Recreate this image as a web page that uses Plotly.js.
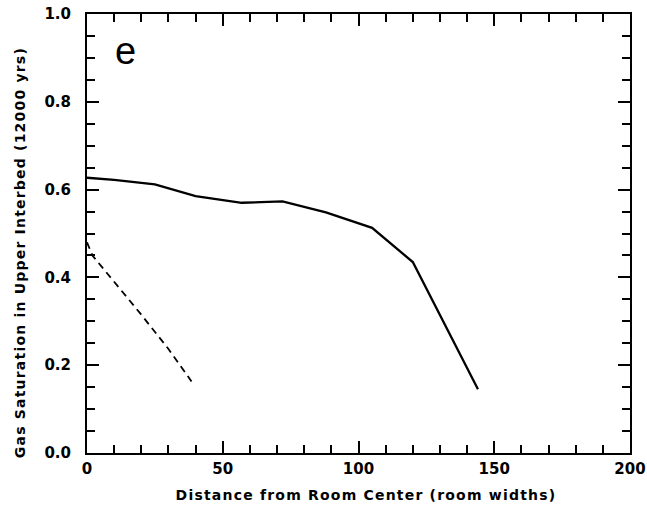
<!DOCTYPE html>
<html>
<head>
<meta charset="utf-8">
<script src="https://cdn.plot.ly/plotly-3.0.1.min.js"></script>
<style>
html,body{margin:0;padding:0;background:#fff;}
#chart{width:647px;height:507px;}
</style>
</head>
<body>
<div id="chart"></div>
<script>
// Solid curve
const solidX = [0, 10, 25, 40, 57, 72, 88, 105, 120, 144];
const solidY = [0.627, 0.622, 0.612, 0.585, 0.570, 0.573, 0.548, 0.513, 0.435, 0.145];
// Dashed curve
const dashX = [0, 2, 8, 20, 30, 38.5];
const dashY = [0.48, 0.45, 0.405, 0.315, 0.237, 0.163];

const xTitle = "Distance from Room Center (room widths)";
const yTitle = "Gas Saturation in Upper Interbed (12000 yrs)";
const panelLabel = "e";

const tickFont = {family: "DejaVu Sans", size: 15, color: "#000", weight: "bold"};
const titleFont = {family: "DejaVu Sans", size: 14, color: "#000", weight: "bold"};

const traces = [
  {x: solidX, y: solidY, mode: "lines", line: {color: "#000", width: 2.3}, showlegend: false, hoverinfo: "skip"},
  {x: dashX, y: dashY, mode: "lines", line: {color: "#000", width: 1.8, dash: "7px,5px"}, showlegend: false, hoverinfo: "skip"}
];

const layout = {
  width: 647, height: 507,
  margin: {l: 87, r: 17, t: 14, b: 54},
  paper_bgcolor: "#fff", plot_bgcolor: "#fff",
  xaxis: {
    range: [0, 200], dtick: 50, tick0: 0,
    showgrid: false, zeroline: false,
    showline: true, linecolor: "#000", linewidth: 2, mirror: "allticks",
    ticks: "inside", ticklen: 12, tickwidth: 2, tickcolor: "#000",
    minor: {dtick: 10, ticks: "inside", ticklen: 8, tickwidth: 2, tickcolor: "#000", showgrid: false},
    tickfont: tickFont, ticklabelstandoff: 1
  },
  yaxis: {
    range: [0, 1], dtick: 0.2, tick0: 0, tickformat: ".1f",
    showgrid: false, zeroline: false,
    showline: true, linecolor: "#000", linewidth: 2, mirror: "allticks",
    ticks: "inside", ticklen: 12, tickwidth: 2, tickcolor: "#000",
    minor: {dtick: 0.05, ticks: "inside", ticklen: 8, tickwidth: 2, tickcolor: "#000", showgrid: false},
    tickfont: tickFont, ticklabelstandoff: 11
  },
  annotations: [
    {text: panelLabel, x: 0.0718, y: 0.9146, xref: "paper", yref: "paper", showarrow: false,
     xanchor: "center", yanchor: "middle", font: {family: "Liberation Sans", size: 38, color: "#000"}},
    {text: xTitle, x: 0.514, y: -0.0957, xref: "paper", yref: "paper", showarrow: false,
     xanchor: "center", yanchor: "middle", font: titleFont},
    {text: yTitle, x: -0.1234, y: 0.456, xref: "paper", yref: "paper", showarrow: false, textangle: -90,
     xanchor: "center", yanchor: "middle", font: titleFont}
  ]
};

Plotly.newPlot("chart", traces, layout, {displayModeBar: false, staticPlot: true}).then(function(){
  const anns = document.querySelectorAll(".annotation-text");
  anns.forEach(function(t){ if (t.textContent.length > 2) t.style.letterSpacing = "1.2px"; });
});
</script>
</body>
</html>
